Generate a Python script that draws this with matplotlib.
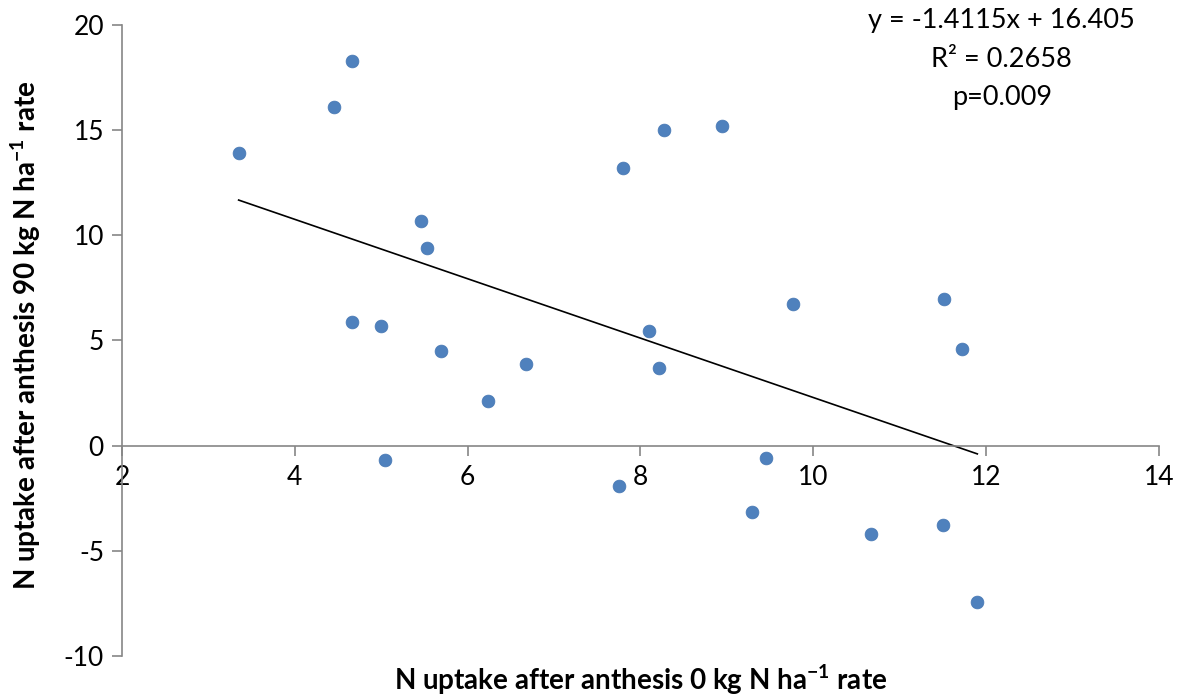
import matplotlib
matplotlib.use("Agg")
import matplotlib.pyplot as plt
import numpy as np

plt.rcParams['font.family'] = ['Lato', 'DejaVu Sans']
plt.rcParams['mathtext.fontset'] = 'custom'
plt.rcParams['mathtext.rm'] = 'Lato'
plt.rcParams['mathtext.bf'] = 'Lato:bold'
plt.rcParams['axes.unicode_minus'] = False

x_vals = [3.35, 4.45, 4.66, 4.66, 5.46, 5.53, 5.00, 5.69, 5.04, 6.24, 6.68, 7.75,
          7.80, 8.27, 8.10, 8.22, 8.94, 9.29, 9.45, 9.77, 10.67, 11.51, 11.50, 11.72, 11.90]
y_vals = [13.9, 16.1, 18.3, 5.9, 10.7, 9.4, 5.7, 4.5, -0.7, 2.1, 3.9, -1.9,
          13.2, 15.0, 5.45, 3.7, 15.2, -3.15, -0.6, 6.75, -4.2, 6.95, -3.75, 4.6, -7.45]
slope = -1.4115
intercept = 16.405
eq_lines = ["y = -1.4115x + 16.405", "R² = 0.2658", "p=0.009"]
x_ticks = [2, 4, 6, 8, 10, 12, 14]
y_ticks = [-10, -5, 0, 5, 10, 15, 20]

fig = plt.figure(figsize=(11.8, 6.98), dpi=100)
ax = fig.add_axes([0.1034, 0.0602, 0.8786, 0.904])
ax.set_xlim(2, 14)
ax.set_ylim(-10, 20)

axis_col = '#868686'
for s in ['top', 'right']:
    ax.spines[s].set_visible(False)
ax.spines['left'].set_color(axis_col)
ax.spines['bottom'].set_color(axis_col)
ax.spines['left'].set_linewidth(1.2)
ax.spines['bottom'].set_linewidth(1.2)
ax.spines['bottom'].set_position(('data', 0))

ax.set_xticks(x_ticks)
ax.set_yticks(y_ticks)
ax.tick_params(axis='both', direction='out', length=7, width=1.2, color=axis_col,
               labelsize=19, labelcolor='black')
ax.tick_params(axis='x', pad=7)
ax.tick_params(axis='y', pad=6)

ax.scatter(x_vals, y_vals, s=85, color='#4F81BD', edgecolors='#4677b3', linewidths=0.5, zorder=3)

xs = np.array([min(x_vals), max(x_vals)])
ax.plot(xs, slope * xs + intercept, color='black', linewidth=1.2, zorder=2)

for txt, yy in zip(eq_lines, [0.971, 0.915, 0.861]):
    fig.text(0.849, yy, txt, ha='center', va='center', fontsize=19.5)

fig.text(0.543, 0.026, r"N uptake after anthesis 0 kg N ha$^{\mathbf{-1}}$ rate",
         ha='center', va='center', fontsize=20, fontweight='bold')
fig.text(0.022, 0.52, r"N uptake after anthesis 90 kg N ha$^{\mathbf{-1}}$ rate",
         ha='center', va='center', fontsize=20, fontweight='bold', rotation=90)

fig.savefig("out.png", dpi=100)
